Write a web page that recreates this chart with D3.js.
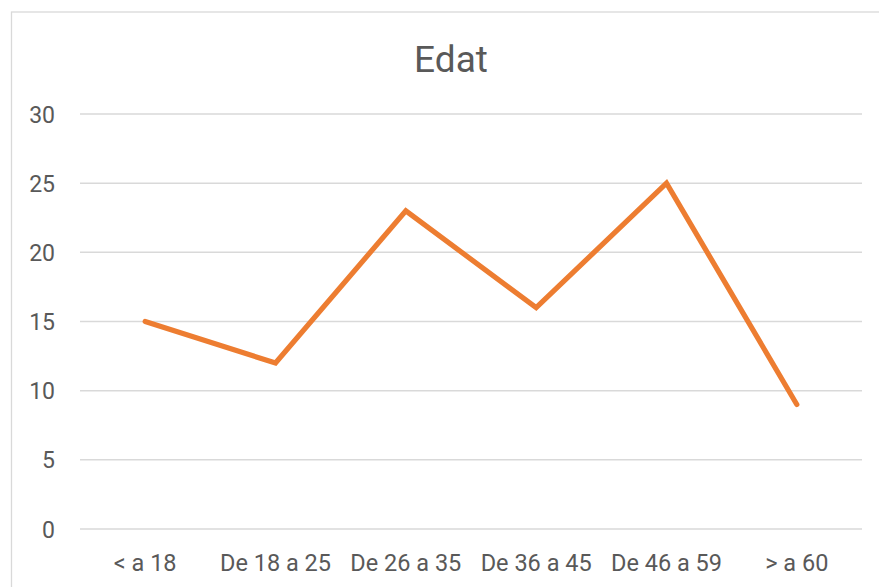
<!DOCTYPE html>
<html>
<head>
<meta charset="utf-8">
<script src="https://cdn.jsdelivr.net/npm/d3@7"></script>
<style>
  html, body { margin: 0; padding: 0; background: #fff; }
  svg { display: block; }
  text { font-family: Roboto, "Noto Sans", sans-serif; fill: #595959; }
</style>
</head>
<body>
<svg id="chart" width="879" height="587"></svg>
<script>
const title = "Edat";
const categories = ["< a 18", "De 18 a 25", "De 26 a 35", "De 36 a 45", "De 46 a 59", "> a 60"];
const values = [15, 12, 23, 16, 25, 9];
const yTicks = [0, 5, 10, 15, 20, 25, 30];

const svg = d3.select("#chart");

// chart border
svg.append("rect")
  .attr("x", 11.5).attr("y", 12)
  .attr("width", 900).attr("height", 600)
  .attr("fill", "#fff")
  .attr("stroke", "#d9d9d9").attr("stroke-width", 1.3);

const x = d3.scaleBand().domain(categories).range([80, 862]);
const y = d3.scaleLinear().domain([0, 30]).range([529, 114]);

// gridlines
svg.append("g").selectAll("line").data(yTicks).join("line")
  .attr("x1", 80).attr("x2", 862)
  .attr("y1", d => y(d)).attr("y2", d => y(d))
  .attr("stroke", "#d9d9d9").attr("stroke-width", 1.5);

// y axis labels
const yAxis = d3.axisLeft(y).tickValues(yTicks).tickSize(0).tickPadding(0);
const gy = svg.append("g").attr("transform", "translate(55,0)").call(yAxis);
gy.select(".domain").remove();
gy.selectAll("text")
  .attr("font-size", "23px")
  .style("font-family", "Roboto, sans-serif")
  .attr("fill", "#595959")
  .attr("dy", "0.35em");

// x axis labels
const xAxis = d3.axisBottom(x).tickSize(0).tickPadding(0);
const gx = svg.append("g").attr("transform", "translate(0,554)").call(xAxis);
gx.select(".domain").remove();
gx.selectAll("text")
  .attr("font-size", "23.5px")
  .style("font-family", "Roboto, sans-serif")
  .attr("fill", "#595959")
  .attr("dy", "0.71em");

// line
const line = d3.line()
  .x((d, i) => x(categories[i]) + x.bandwidth() / 2)
  .y(d => y(d));
svg.append("path")
  .datum(values)
  .attr("d", line)
  .attr("fill", "none")
  .attr("stroke", "#ED7D31")
  .attr("stroke-width", 5.2)
  .attr("stroke-linecap", "round")
  .attr("stroke-linejoin", "miter");

// title
svg.append("text")
  .attr("x", 451).attr("y", 72)
  .attr("text-anchor", "middle")
  .attr("font-size", "37px")
  .text(title);
</script>
</body>
</html>
